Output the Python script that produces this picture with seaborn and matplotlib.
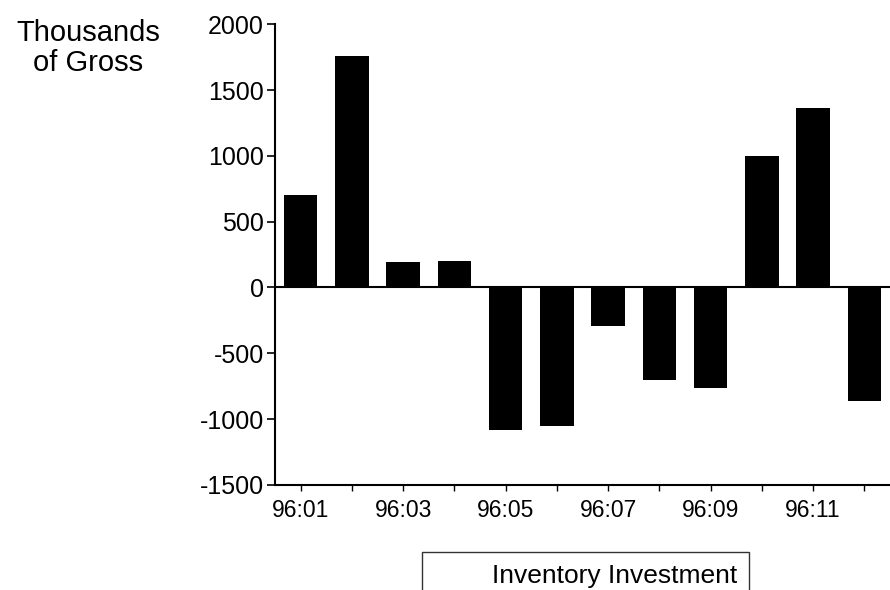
import matplotlib.pyplot as plt
import seaborn as sns
import pandas as pd

months = ["96:01", "96:02", "96:03", "96:04", "96:05", "96:06",
          "96:07", "96:08", "96:09", "96:10", "96:11", "96:12"]
investment = [700, 1760, 190, 200, -1080, -1050,
              -290, -700, -760, 1000, 1360, -860]
yticks = [-1500, -1000, -500, 0, 500, 1000, 1500, 2000]

df = pd.DataFrame({"month": months, "value": investment})

sns.set_style("white")
plt.rcParams["font.family"] = ["Liberation Sans", "DejaVu Sans"]
plt.rcParams["text.color"] = "black"
plt.rcParams["xtick.color"] = "black"
plt.rcParams["ytick.color"] = "black"

fig = plt.figure(figsize=(8.9, 5.9), dpi=100)
ax = fig.add_axes([0.309, 0.178, 0.691, 0.781])

sns.barplot(data=df, x="month", y="value", color="black", width=0.65,
            saturation=1, edgecolor="black", linewidth=0, ax=ax,
            label="Inventory Investment")
ax.axhline(0, color="black", lw=1.5, zorder=0)

ax.set_xlim(-0.5, 11.5)
ax.set_ylim(-1500, 2000)
ax.set_yticks(yticks)
ax.set_yticklabels([str(t) for t in yticks], fontsize=18)
ax.set_xticks(range(len(months)))
ax.set_xticklabels([m if i % 2 == 0 else "" for i, m in enumerate(months)],
                   fontsize=16.5)
ax.set_xlabel("")
ax.set_ylabel("")

for side in ["top", "right"]:
    ax.spines[side].set_visible(False)
for side in ["left", "bottom"]:
    ax.spines[side].set_color("black")
    ax.spines[side].set_linewidth(1.5)
ax.tick_params(axis="y", length=6, width=1.2, pad=2, left=True)
ax.tick_params(axis="x", length=4, width=1, pad=6, bottom=True)

fig.text(0.099, 0.968, "Thousands\nof Gross", ha="center", va="top",
         fontsize=21, linespacing=1.1)

leg = ax.legend(loc="center", bbox_to_anchor=(0.658, 0.0245),
                bbox_transform=fig.transFigure, handlelength=2.2,
                handletextpad=0, fontsize=19, frameon=True, fancybox=False,
                borderpad=0.45)
for h in leg.legend_handles:
    h.set_visible(False)
leg.get_frame().set_edgecolor("black")
leg.get_frame().set_linewidth(1)

fig.savefig("out.png", dpi=100)
